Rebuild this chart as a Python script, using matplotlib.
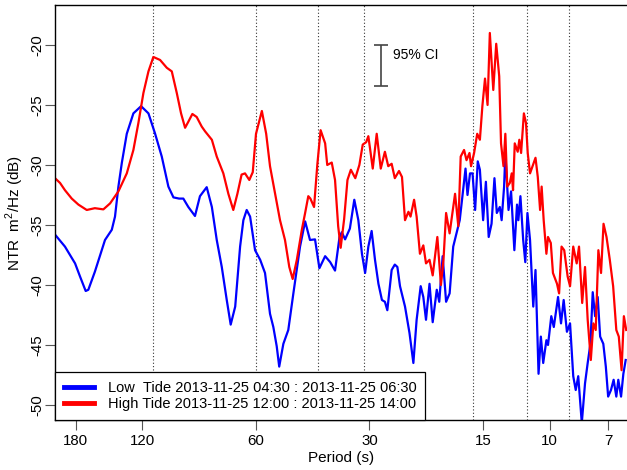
import numpy as np
import matplotlib
matplotlib.use("Agg")
import matplotlib.pyplot as plt

plt.rcParams['font.family'] = ['Liberation Sans', 'DejaVu Sans']
plt.rcParams['mathtext.fontset'] = 'custom'
plt.rcParams['mathtext.rm'] = 'Liberation Sans'

# low tide spectrum: period (s), level (dB)
low_period = [204, 192, 180.5, 175.1, 169.2, 166.5, 160, 150.4, 144.3, 141.5, 138.6, 135.7, 131.7,
              126.5, 120.7, 115.4, 110.8, 106.4, 102.2, 99.1, 95.75, 93.3, 90.5, 86.9, 84.3, 80.9,
              78.4, 76.1, 73.8, 71.6, 69.9, 68.0, 66.0, 64.7, 63.4, 62.1, 60.25, 58.4, 56.7, 55,
              53.9, 52.8, 52.0, 50.7, 49.2, 47.7, 45.8, 44.4, 43.1, 41.8, 40.7, 39.3, 38.1, 37.0,
              36.0, 35.5, 34.8, 33.8, 32.9, 32.1, 31.4, 30.8, 30.2, 29.6, 29.0, 28.4, 27.8, 27.3,
              26.9, 26.2, 25.7, 25.3, 24.9, 24.15, 23.5, 22.95, 22.5, 21.95, 21.6, 21.25, 20.8,
              20.4, 19.9, 19.6, 19.2, 18.8, 18.4, 18.0, 17.55, 17.3, 17.0, 16.7, 16.5, 16.25, 16.0,
              15.75, 15.5, 15.3, 15.0, 14.75, 14.5, 14.25, 14.0, 13.8, 13.55, 13.4, 13.2, 13.1,
              12.85, 12.65, 12.4, 12.2, 12.1, 11.95, 11.75, 11.6, 11.45, 11.27, 11.05, 10.9, 10.7,
              10.55, 10.4, 10.2, 10.1, 9.9, 9.75, 9.5, 9.33, 9.18, 9.0, 8.83, 8.66, 8.53, 8.4,
              8.22, 8.06, 7.93, 7.8, 7.69, 7.58, 7.46, 7.35, 7.21, 7.1, 7.0, 6.88, 6.77, 6.66,
              6.58, 6.47, 6.38, 6.29]
low_db = [-35.8, -36.8, -38.2, -39.3, -40.5, -40.4, -38.9, -36.25, -35.4, -34.3, -31.8, -29.8, -27.4,
          -25.7, -25.1, -25.7, -27.4, -29.3, -31.8, -32.7, -32.8, -32.8, -33.5, -34.25, -32.6, -31.85,
          -33.5, -36.25, -38.5, -41.25, -43.3, -41.8, -36.8, -34.6, -33.75, -34.3, -37.1, -37.9, -39.0, -42.4,
          -43.5, -45.1, -46.8, -44.9, -43.75, -40.7, -36.8, -34.7, -36.25, -36.2, -38.6, -37.6, -38.1, -38.8,
          -36.0, -35.6, -36.2, -35.3, -32.9, -34.6, -37.4, -39.0, -36.8, -35.5, -37.9, -39.9, -41.25, -41.4,
          -42.1, -38.75, -38.3, -38.5, -40.1, -41.8, -44.0, -46.5, -42.9, -40.1, -41.0, -42.9, -39.9,
          -43.1, -40.4, -41.4, -37.6, -41.4, -40.7, -36.8, -35.4, -34.6, -32.5, -30.3, -32.5, -30.7, -30.7,
          -33.75, -29.7, -30.4, -34.6, -31.4, -36.0, -34.9, -31.1, -34.0, -33.5, -34.6, -31.8, -29.0,
          -33.75, -32.2, -37.1, -33.3, -34.6, -32.6, -36.25, -38.1, -34.0, -36.25, -41.8, -38.75, -47.4,
          -44.3, -46.5, -44.6, -45.0, -42.6, -43.5, -41.0, -43.2, -41.25, -43.9, -43.2, -47.6, -48.75, -47.6,
          -51.5, -48.2, -46.5, -44.9, -40.6, -42.6, -41.0, -44.3, -44.9, -46.8, -49.3, -48.75, -47.9, -49.3,
          -47.9, -49.3, -47.4, -46.25]

# high tide spectrum
high_period = [204, 197.8, 192, 184.2, 176.9, 168.1, 160, 151.9, 145.8, 138.6, 131.7, 126.5, 122.7,
               119.0, 115.4, 112, 107.5, 103.2, 100.1, 97.1, 94.6, 92.3, 90.5, 88.3, 86.0, 83.4, 81.7,
               78.4, 76.1, 73.1, 70.9, 68.8, 67.1, 65.4, 64.05, 62.4, 61.1, 59.9, 57.8, 56.3, 55,
               53.3, 51.75, 50.2, 48.9, 47.9, 46.7, 45.3, 44.4, 43.55, 43.0, 42.05, 41.2, 40.4, 39.3,
               38.8, 37.75, 37.0, 36.3, 35.75, 35.0, 34.3, 33.6, 32.7, 31.9, 31.25, 30.6, 30.2, 29.4,
               28.7, 28.0, 27.3, 26.75, 26.2, 25.7, 25.05, 24.6, 24.15, 23.65, 23.35, 22.85, 22.5,
               22.05, 21.6, 21.25, 20.8, 20.4, 19.83, 19.4, 19.1, 18.8, 18.4, 17.8, 17.45, 17.2,
               16.85, 16.6, 16.3, 16.15, 15.85, 15.55, 15.3, 15.07, 14.83, 14.6, 14.4, 14.1, 13.85,
               13.6, 13.45, 13.25, 13.1, 12.95, 12.75, 12.6, 12.5, 12.37, 12.15, 12.03, 11.9, 11.7,
               11.55, 11.43, 11.27, 11.1, 10.9, 10.75, 10.6, 10.5, 10.37, 10.2, 10.1, 9.93, 9.8,
               9.56, 9.44, 9.3, 9.15, 8.96, 8.83, 8.66, 8.48, 8.36, 8.2, 8.06, 7.93, 7.78, 7.66,
               7.55, 7.43, 7.31, 7.2, 7.07, 6.93, 6.79, 6.66, 6.56, 6.45, 6.36, 6.27]
high_db = [-31.1, -31.5, -32.1, -32.8, -33.3, -33.75, -33.6, -33.7, -33.2, -32.2, -30.7, -28.75, -26.5,
           -24.0, -22.2, -21.0, -21.25, -21.9, -22.2, -24.0, -25.7, -26.9, -26.4, -25.75, -26.0, -26.8, -27.2,
           -27.9, -29.3, -30.7, -32.4, -33.75, -32.4, -30.8, -30.7, -31.25, -30.6, -27.4, -25.5, -27.4, -30.1,
           -32.4, -34.6, -36.25, -38.5, -39.5, -37.9, -35.4, -34.0, -32.6, -32.8, -33.5, -29.9, -27.1, -28.2,
           -30.0, -29.8, -31.25, -35.1, -36.9, -34.5, -31.25, -30.4, -31.1, -30.0, -28.3, -28.1, -27.6, -30.3,
           -27.4, -30.3, -28.9, -30.1, -29.9, -31.1, -30.5, -31.0, -34.6, -33.9, -34.3, -32.9, -34.3,
           -37.4, -36.7, -38.2, -37.9, -39.2, -36.0, -40.0, -37.9, -34.0, -35.7, -32.4, -35.1, -29.3,
           -28.75, -29.6, -29.0, -30.1, -29.0, -27.4, -27.9, -25.1, -22.8, -25.0, -19.0, -23.75, -19.9,
           -22.6, -28.2, -30.1, -27.4, -31.8, -31.5, -30.7, -32.1, -28.2, -28.9, -27.9, -29.0, -25.7,
           -26.5, -29.0, -30.7, -30.1, -29.4, -31.0, -33.75, -31.8, -34.6, -37.4, -36.0, -36.5, -39.0,
           -39.9, -40.7, -36.8, -37.1, -39.3, -40.1, -36.8, -38.2, -36.8, -41.5, -38.5, -42.9, -46.25, -43.2,
           -43.75, -37.1, -39.0, -34.9, -36.0, -37.9, -40.1, -43.75, -44.3, -47.1, -42.6, -43.75]

# marked resonance periods (s)
mode_periods = [112, 60, 41, 31, 16, 11.5, 8.9]

period_ticks = [180, 120, 60, 30, 15, 10, 7]
db_ticks = [-20, -25, -30, -35, -40, -45, -50]

ci_period = 28
ci_top, ci_bottom = -20.0, -23.4

fig = plt.figure(figsize=(6.27, 4.70), dpi=100)
ax = fig.add_axes([55 / 627, 1 - 420 / 470, 1 - 55 / 627, 415 / 470])

for p in mode_periods:
    ax.axvline(p, color='#333333', lw=0.8, ls=(0, (1, 2)), zorder=1)

ax.plot(low_period, low_db, color='#0000FF', lw=1.6, zorder=2,
        label='Low  Tide 2013-11-25 04:30 : 2013-11-25 06:30')
ax.plot(high_period, high_db, color='#FF0000', lw=1.6, zorder=2,
        label='High Tide 2013-11-25 12:00 : 2013-11-25 14:00')

# confidence interval bar
ax.errorbar(ci_period, (ci_top + ci_bottom) / 2, yerr=(ci_top - ci_bottom) / 2,
            color='#444444', lw=1.2, capsize=5, capthick=1.2)
ax.text(26.05, -20.85, '95% CI', fontsize=10, va='center', ha='left')

ax.set_xscale('log')
ax.set_xlim(204, 6.24)
ax.set_ylim(-51.25, -16.67)
ax.set_xticks(period_ticks)
ax.set_xticklabels([str(t) for t in period_ticks])
ax.xaxis.set_minor_locator(matplotlib.ticker.NullLocator())
ax.set_yticks(db_ticks)
ax.set_yticklabels([str(t) for t in db_ticks], rotation=90, va='center')
ax.tick_params(axis='both', length=7, width=0.8, labelsize=10.8, color='#555555')
ax.tick_params(axis='x', pad=3)
ax.tick_params(axis='y', pad=1)

ax.spines['right'].set_visible(False)
for s in ['left', 'bottom', 'top']:
    ax.spines[s].set_linewidth(1.0)

ax.set_xlabel('Period (s)', fontsize=11, labelpad=2)
ax.set_ylabel('NTR  m$^2$/Hz (dB)', fontsize=11, labelpad=3)

leg = ax.legend(loc='lower left', bbox_to_anchor=(0, 0), borderaxespad=0, fontsize=10.5,
                fancybox=False, framealpha=1, edgecolor='black', handlelength=2.1,
                handletextpad=0.9, borderpad=0.6, labelspacing=0.15)
leg.get_frame().set_linewidth(0.9)
for h in leg.get_lines():
    h.set_linewidth(3.5)
leg.set_zorder(5)

fig.savefig('out.png', dpi=100)
